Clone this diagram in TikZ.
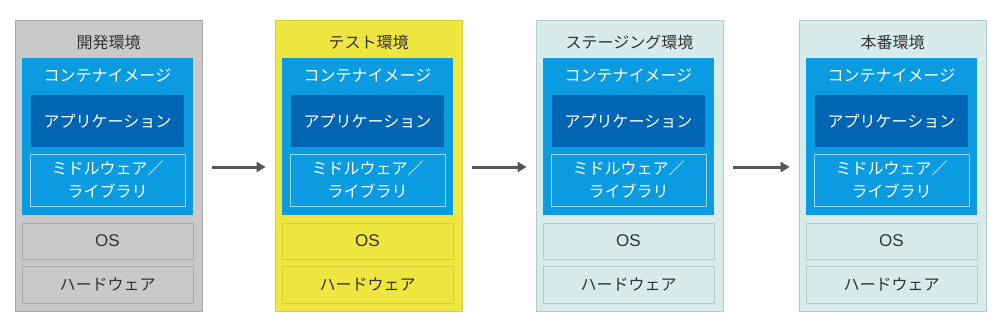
\documentclass[tikz,border=0pt]{standalone}
\usepackage{fontspec}
\setmainfont{Noto Sans CJK JP}
\newfontfamily\latinfont{Liberation Sans}
\usetikzlibrary{arrows.meta}
\definecolor{gpf}{HTML}{C9C9C9}
\definecolor{gpb}{HTML}{A9A9A9}
\definecolor{ypf}{HTML}{EFE640}
\definecolor{ypb}{HTML}{D6CC3A}
\definecolor{tpf}{HTML}{D6EBEA}
\definecolor{tpb}{HTML}{B5CBCA}
\definecolor{cblue}{HTML}{0A9BE1}
\definecolor{dblue}{HTML}{0066B3}
\definecolor{lblue}{HTML}{9DD6F5}
\definecolor{txt}{HTML}{333333}
\definecolor{arrc}{HTML}{555555}
\tikzset{
  jfont/.style={font=\fontsize{16}{23}\selectfont},
  panelbox/.style={minimum width=187pt, minimum height=291pt, inner sep=0pt, line width=0.8pt},
  titletext/.style={jfont, text=txt, inner sep=0pt},
  container/.style={fill=cblue, minimum width=171pt, minimum height=157pt, inner sep=0pt},
  whitetext/.style={jfont, text=white, inner sep=0pt},
  appbox/.style={fill=dblue, jfont, text=white, minimum width=153pt, minimum height=52pt, inner sep=0pt},
  mwbox/.style={draw=lblue, line width=0.8pt, jfont, text=white, align=center, minimum width=155pt, minimum height=52pt, inner sep=0pt},
  layerbox/.style={line width=0.8pt, jfont, text=txt, minimum width=171pt, minimum height=36pt, inner sep=0pt},
  flowarrow/.style={draw=arrc, line width=3pt, -{Triangle[length=9pt,width=10pt]}, shorten <=9.5pt, shorten >=9pt}
}
\begin{document}
\begin{tikzpicture}[x=1pt,y=-1pt]
\useasboundingbox (0,0) rectangle (1000,327);
\foreach \i/\x/\title/\pf/\pb in {1/15/開発環境/gpf/gpb, 2/275/テスト環境/ypf/ypb, 3/536/ステージング環境/tpf/tpb, 4/799/本番環境/tpf/tpb} {
  \node[panelbox, fill=\pf, draw=\pb] (p\i) at (\x+93.5,165.5) {};
  \node[titletext] (t\i) at (\x+93.5,42) {\title};
  \node[container] (c\i) at (\x+92.5,136.5) {};
  \node[whitetext] (cl\i) at (\x+92.5,76) {コンテナイメージ};
  \node[appbox] (a\i) at (\x+92.5,121) {アプリケーション};
  \node[mwbox] (m\i) at (\x+92.5,180) {ミドルウェア／\\ライブラリ};
  \node[layerbox, fill=\pf, draw=\pb, font=\latinfont\fontsize{17}{20}\selectfont] (os\i) at (\x+92.5,241) {OS};
  \node[layerbox, fill=\pf, draw=\pb, minimum height=37pt] (hw\i) at (\x+92.5,284.5) {ハードウェア};
}
\draw[flowarrow] ([yshift=-1.5pt]p1.east) -- ([yshift=-1.5pt]p2.west);
\draw[flowarrow] ([yshift=-1.5pt]p2.east) -- ([yshift=-1.5pt]p3.west);
\draw[flowarrow] ([yshift=-1.5pt]p3.east) -- ([yshift=-1.5pt]p4.west);
\end{tikzpicture}
\end{document}
